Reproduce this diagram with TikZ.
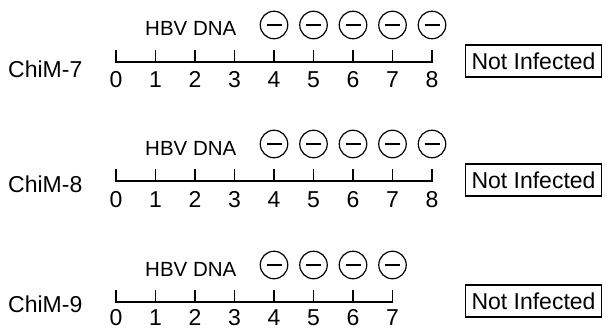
\documentclass[tikz,border=0pt]{standalone}
\usepackage{fontspec}
\setmainfont{Liberation Sans}
\begin{document}
\begin{tikzpicture}[x=1pt,y=-1pt,
  axisline/.style={line width=1.4pt, line join=miter},
  ticklabel/.style={font=\fontsize{23}{23}\selectfont, anchor=base, inner sep=0pt},
  rowlabel/.style={font=\fontsize{23}{23}\selectfont, anchor=base west, inner sep=0pt},
  dnalabel/.style={font=\fontsize{20.5}{20.5}\selectfont, anchor=base west, inner sep=0pt},
  negmark/.style={draw, circle, line width=1.2pt, minimum size=27.5pt, inner sep=0pt},
  minusbar/.style={line width=2pt},
  resultbox/.style={draw, line width=1.2pt, font=\fontsize{23}{23}\selectfont,
    inner xsep=6pt, inner ysep=7.5pt}
]
\useasboundingbox (0,0) rectangle (609,331);

% one timeline per animal: label, axis with weekly ticks, negative marks, result
\foreach \r/\lab/\n/\ly/\dy [count=\k] in {0/ChiM-7/8/78/88, 119/ChiM-8/8/192/207, 240/ChiM-9/7/312/325}{
  \node[rowlabel] (name\k) at (8,\ly) {\lab};
  \node[dnalabel] (dna\k) at (145,36+\r) {HBV DNA};
  \foreach \i in {0,...,\n}{
    \coordinate (t\k-\i) at (116+39.5*\i, 62+\r);
    \coordinate (u\k-\i) at (116+39.5*\i, 50+\r);
    \node[ticklabel] (d\k-\i) at (116+39.5*\i, \dy) {\i};
  }
  \draw[axisline] (u\k-0) -- (t\k-0) -- (t\k-\n) -- (u\k-\n);
  \pgfmathtruncatemacro{\last}{\n-1}
  \foreach \i in {1,...,\last}{
    \draw[axisline] (t\k-\i) -- (u\k-\i);
  }
  \foreach \i in {4,...,\n}{
    \node[negmark] (m\k-\i) at (116+39.5*\i, 25+\r) {};
    \draw[minusbar] ([xshift=-7.5pt]m\k-\i.center) -- ([xshift=7.5pt]m\k-\i.center);
  }
  \node[resultbox] (res\k) at (533.5, 61+\r) {Not Infected};
}
\end{tikzpicture}
\end{document}
